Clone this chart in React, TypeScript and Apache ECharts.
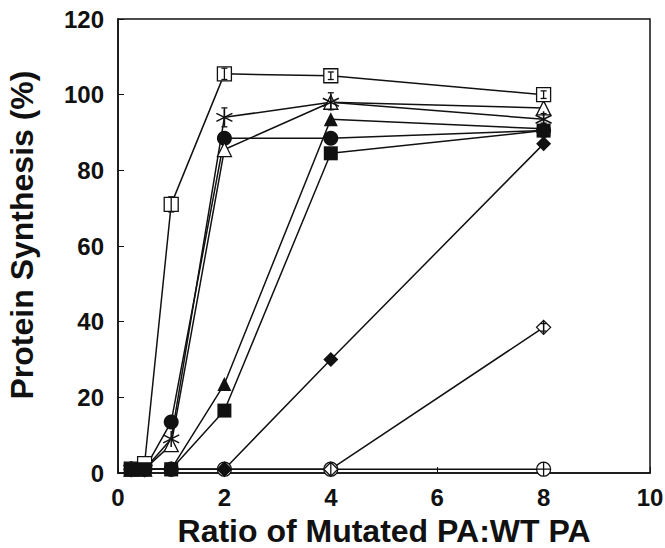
import React, { useEffect, useRef } from "react";
import * as echarts from "echarts";

const ratios = [0.25, 0.5, 1, 2, 4, 8];
const openSquare = [1, 2.5, 71, 105.5, 105, 100];
const asterisk = [1, 1, 9, 94, 98, 93.5];
const openTriangle = [1, 1, 7.5, 85.5, 98, 96.5];
const filledCircle = [1, 1, 13.5, 88.5, 88.5, 90.5];
const filledTriangle = [1, 1, 1, 23.5, 93.5, 91];
const filledSquare = [1, 1, 1, 16.5, 84.5, 90.5];
const filledDiamond = [1, 1, 1, 1, 30, 87];
const openDiamond = [1, 1, 1, 1, 1, 38.5];
const openCirclePlus = [1, 1, 1, 1, 1, 1];

// error bars: [x, low, high]
const errorBars = [
  [1, 69, 73],
  [2, 104, 107],
  [4, 104, 106],
  [8, 99, 101],
  [2, 91.5, 96.5],
  [4, 96, 100.5],
  [8, 92.5, 95],
  [8, 37.5, 39.5],
];

const xTicks = [0, 2, 4, 6, 8, 10];
const yTicks = [0, 20, 40, 60, 80, 100, 120];
const xTitle = "Ratio of Mutated PA:WT PA";
const yTitle = "Protein Synthesis (%)";

const FONT = "Liberation Sans, Arial, Helvetica, sans-serif";
const BLACK = "#111";

const SYM_ASTERISK = "path://M0,-10 L0,10 M-9,-5 L9,5 M-9,5 L9,-5";
const SYM_OPEN_DIAMOND = "path://M0,-10 L10,0 L0,10 L-10,0 Z M0,-10 L0,10";
const SYM_CIRCLE_PLUS =
  "path://M-10,0 A10,10 0 1,0 10,0 A10,10 0 1,0 -10,0 Z M-10,0 L10,0 M0,-10 L0,10";

function mk(name: string, values: number[], symbol: string, filled: boolean, size = 14, z = 3) {
  return {
    name,
    type: "line",
    data: ratios.map((x, i) => [x, values[i]]),
    symbol,
    symbolSize: size,
    showAllSymbol: true,
    lineStyle: { color: BLACK, width: 1.5 },
    itemStyle: filled
      ? { color: BLACK, borderColor: BLACK, borderWidth: 0 }
      : { color: "#fff", borderColor: BLACK, borderWidth: 1.3 },
    z,
  };
}

export default function App() {
  const ref = useRef<HTMLDivElement>(null);
  useEffect(() => {
    if (!ref.current) return;
    const chart = echarts.init(ref.current, null, { renderer: "svg" });
    const asteriskSeries: any = mk("asterisk", asterisk, SYM_ASTERISK, false, 16);
    asteriskSeries.itemStyle = { color: "none", borderColor: BLACK, borderWidth: 1.5 };
    chart.setOption({
      animation: false,
      backgroundColor: "#fff",
      grid: {
        left: 118,
        right: 15,
        top: 19,
        bottom: 75,
        outerBoundsMode: "none",
        containLabel: false,
        show: true,
        borderColor: BLACK,
        borderWidth: 1.5,
        backgroundColor: "transparent",
      },
      graphic: [
        {
          type: "text",
          x: 22,
          y: 235,
          rotation: Math.PI / 2,
          style: {
            text: yTitle,
            fontFamily: FONT,
            fontWeight: "bold",
            fontSize: 32,
            fill: BLACK,
            align: "center",
            verticalAlign: "middle",
          },
        },
      ],
      xAxis: {
        type: "value",
        min: xTicks[0],
        max: xTicks[xTicks.length - 1],
        interval: 2,
        name: xTitle,
        nameLocation: "middle",
        nameGap: 42,
        nameTextStyle: { fontFamily: FONT, fontWeight: "bold", fontSize: 32, color: BLACK },
        axisLine: { lineStyle: { color: BLACK, width: 1.5 } },
        axisTick: { inside: true, length: 6, lineStyle: { color: BLACK } },
        axisLabel: { fontFamily: FONT, fontWeight: "bold", fontSize: 24, color: BLACK, margin: 12 },
        splitLine: { show: false },
      },
      yAxis: {
        type: "value",
        min: yTicks[0],
        max: yTicks[yTicks.length - 1],
        interval: 20,
        axisLine: { lineStyle: { color: BLACK, width: 1.5 } },
        axisTick: { inside: true, length: 6, lineStyle: { color: BLACK } },
        axisLabel: { fontFamily: FONT, fontWeight: "bold", fontSize: 24, color: BLACK, margin: 14 },
        splitLine: { show: false },
      },
      series: [
        mk("openCirclePlus", openCirclePlus, SYM_CIRCLE_PLUS, false),
        mk("openDiamond", openDiamond, SYM_OPEN_DIAMOND, false),
        mk("filledDiamond", filledDiamond, "diamond", true, 15),
        mk("filledTriangle", filledTriangle, "triangle", true),
        mk("filledCircle", filledCircle, "circle", true, 15),
        mk("openTriangle", openTriangle, "triangle", false),
        asteriskSeries,
        mk("openSquare", openSquare, "rect", false),
        mk("filledSquare", filledSquare, "rect", true, 14, 4),
        {
          type: "custom",
          name: "errors",
          z: 5,
          data: errorBars,
          renderItem: (params: any, api: any) => {
            const x = api.value(0);
            const lo = api.coord([x, api.value(1)]);
            const hi = api.coord([x, api.value(2)]);
            const w = 3;
            const st = { stroke: BLACK, lineWidth: 1.3 };
            return {
              type: "group",
              children: [
                { type: "line", shape: { x1: lo[0], y1: lo[1], x2: hi[0], y2: hi[1] }, style: st },
                { type: "line", shape: { x1: lo[0] - w, y1: lo[1], x2: lo[0] + w, y2: lo[1] }, style: st },
                { type: "line", shape: { x1: hi[0] - w, y1: hi[1], x2: hi[0] + w, y2: hi[1] }, style: st },
              ],
            };
          },
        },
      ],
    });
    return () => chart.dispose();
  }, []);
  return (
    <div
      ref={ref}
      style={{ position: "absolute", left: 0, top: 0, width: 665, height: 548 }}
    />
  );
}
